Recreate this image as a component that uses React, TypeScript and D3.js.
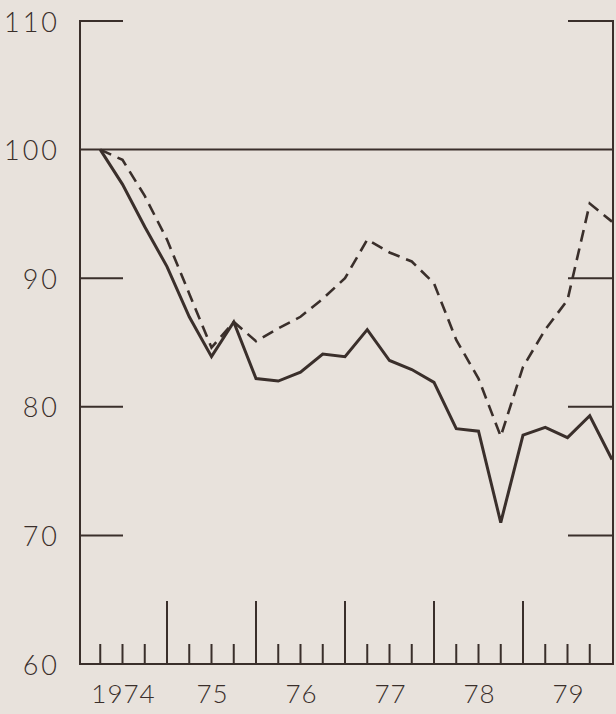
import React from 'react';
import * as d3 from 'd3';

// quarter index (1 = first tick after start of 1974)
const quarters: number[] = d3.range(1, 25);
const solidSeries: number[] = [100, 97.3, 94.0, 90.9, 87.0, 83.9, 86.6, 82.2, 82.0, 82.7, 84.1, 83.9, 86.0, 83.6, 82.9, 81.9, 78.3, 78.1, 71.0, 77.8, 78.4, 77.6, 79.3, 75.9];
const dashedSeries: number[] = [100, 99.2, 96.4, 93.0, 88.8, 84.6, 86.6, 85.1, 86.1, 87.0, 88.4, 90.0, 93.0, 92.0, 91.3, 89.6, 85.2, 82.2, 77.7, 83.1, 86.0, 88.3, 95.8, 94.4];
const yTickValues: number[] = [60, 70, 80, 90, 100, 110];
const yearLabels: string[] = ['1974', '75', '76', '77', '78', '79'];

const W = 616;
const H = 714;
const INK = '#3a2f2b';
const BG = '#e8e2dc';
const FONT = "Lato, 'Open Sans', 'DejaVu Sans', sans-serif";

export default function App() {
  const x = d3.scaleLinear().domain([0, 24]).range([78, 612]);
  const y = d3.scaleLinear().domain([60, 110]).range([664, 21]);
  const left = 80;
  const right = 613;
  const bottom = y(60);
  const top = y(110);

  const line = d3
    .line<number>()
    .x((_, i) => x(quarters[i]))
    .y((d) => y(d))
    .curve(d3.curveLinear);

  const tickQs = d3.range(1, 24);

  return (
    <svg
      width={W}
      height={H}
      style={{ position: 'absolute', left: 0, top: 0, display: 'block' }}
    >
      <rect x={0} y={0} width={W} height={H} fill={BG} />
      {/* frame */}
      <g stroke={INK} strokeWidth={2} fill="none" strokeLinecap="square">
        <line x1={left} y1={top} x2={left} y2={bottom} />
        <line x1={right} y1={top} x2={right} y2={bottom} />
        <line x1={left} y1={bottom} x2={right} y2={bottom} />
        <line x1={left} y1={y(100)} x2={right} y2={y(100)} />
        {yTickValues
          .filter((v) => v !== 60 && v !== 100)
          .map((v) => (
            <g key={v}>
              <line x1={left} y1={y(v)} x2={left + 42} y2={y(v)} />
              <line x1={right - 44} y1={y(v)} x2={right} y2={y(v)} />
            </g>
          ))}
        {tickQs.map((q) => (
          <line
            key={q}
            x1={x(q)}
            x2={x(q)}
            y1={bottom}
            y2={bottom - (q % 4 === 0 ? 62 : 19)}
          />
        ))}
      </g>
      {/* y labels */}
      <g fill={INK} fontFamily={FONT} fontSize={27} fontWeight={300}>
        {yTickValues.map((v) => (
          <text
            key={v}
            x={60}
            y={y(v)}
            textAnchor="end"
            dominantBaseline="central"
            letterSpacing={3}
          >
            {String(v)}
          </text>
        ))}
      </g>
      {/* x labels */}
      <g fill={INK} fontFamily={FONT} fontSize={26} fontWeight={300}>
        {yearLabels.map((lab, i) => (
          <text
            key={lab}
            x={x(2 + i * 4) + 1}
            y={703}
            textAnchor="middle"
            letterSpacing={1}
          >
            {lab}
          </text>
        ))}
      </g>
      {/* series */}
      <path
        d={line(dashedSeries) || ''}
        fill="none"
        stroke={INK}
        strokeWidth={2.6}
        strokeDasharray="12 7"
        strokeLinejoin="miter"
      />
      <path
        d={line(solidSeries) || ''}
        fill="none"
        stroke={INK}
        strokeWidth={3}
        strokeLinejoin="miter"
      />
    </svg>
  );
}
